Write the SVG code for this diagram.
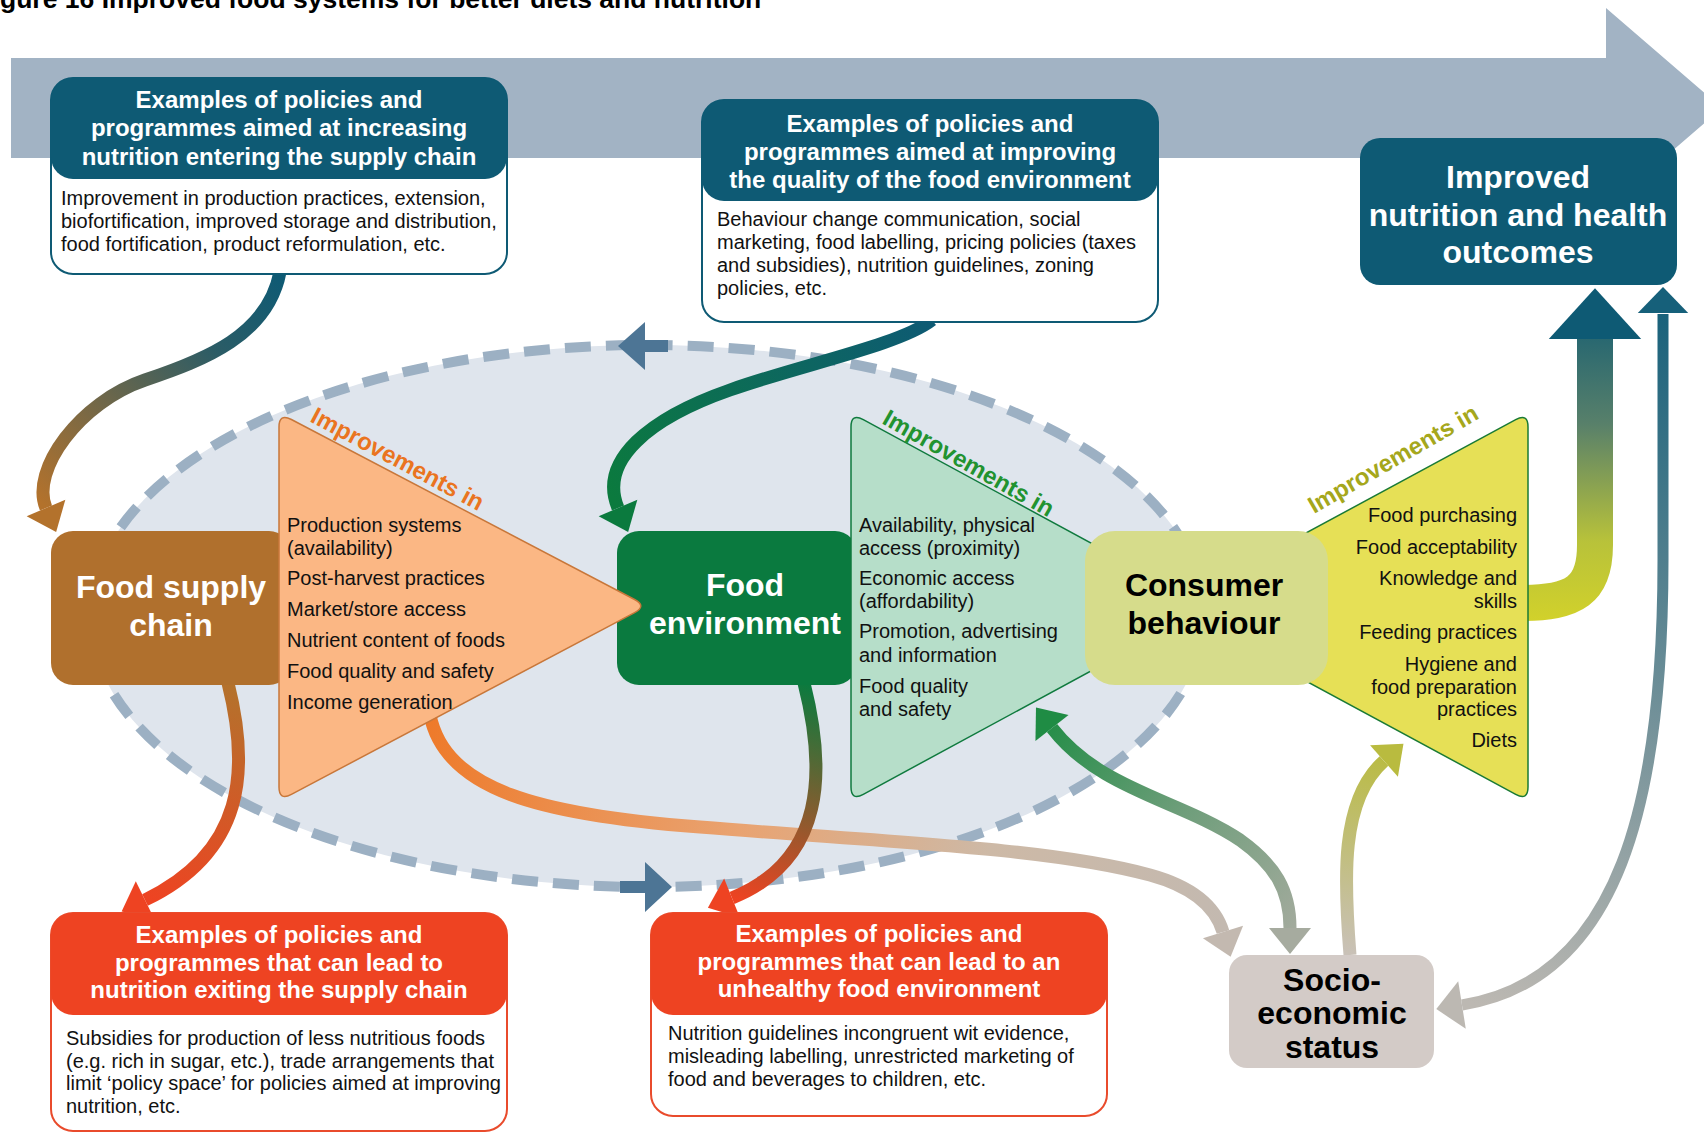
<svg xmlns="http://www.w3.org/2000/svg" xmlns:xlink="http://www.w3.org/1999/xlink" width="1704" height="1134" viewBox="0 0 1704 1134">
<style>
.t{font-family:"Liberation Sans",Arial,sans-serif}
.hdr{font-family:"Liberation Sans",Arial,sans-serif;font-weight:bold;font-size:24px;fill:#fff;text-anchor:middle}
.body{font-family:"Liberation Sans",Arial,sans-serif;font-size:20px;fill:#111}
.node{font-family:"Liberation Sans",Arial,sans-serif;font-weight:bold;font-size:32px;text-anchor:middle}
.imp{font-family:"Liberation Sans",Arial,sans-serif;font-size:24px;font-weight:bold}
.conn path{fill:none}
</style>
<defs>
<path id="ah" d="M26 0 L0 -21 L0 21 Z"/>
<linearGradient id="gA" gradientUnits="userSpaceOnUse" x1="280" y1="274" x2="46" y2="508"><stop offset="0" stop-color="#0e5a74"/><stop offset="0.3" stop-color="#2b5c66"/><stop offset="1" stop-color="#b3722c"/></linearGradient>
<linearGradient id="gB" gradientUnits="userSpaceOnUse" x1="932" y1="320" x2="618" y2="508"><stop offset="0" stop-color="#0e5a74"/><stop offset="1" stop-color="#0b7a3e"/></linearGradient>
<linearGradient id="gC" gradientUnits="userSpaceOnUse" x1="228" y1="683" x2="145" y2="900"><stop offset="0" stop-color="#b3722c"/><stop offset="1" stop-color="#ee4322"/></linearGradient>
<linearGradient id="gD" gradientUnits="userSpaceOnUse" x1="804" y1="683" x2="732" y2="898"><stop offset="0" stop-color="#0b7a3e"/><stop offset="1" stop-color="#ee4322"/></linearGradient>
<linearGradient id="gE" gradientUnits="userSpaceOnUse" x1="430" y1="715" x2="1223" y2="932"><stop offset="0" stop-color="#ee7a2a"/><stop offset="0.4" stop-color="#e9a371"/><stop offset="0.7" stop-color="#cdb9a6"/><stop offset="1" stop-color="#c3b9b0"/></linearGradient>
<linearGradient id="gF" gradientUnits="userSpaceOnUse" x1="1040" y1="715" x2="1290" y2="950"><stop offset="0" stop-color="#1f8c44"/><stop offset="0.5" stop-color="#6f9e7b"/><stop offset="1" stop-color="#a6ab9f"/></linearGradient>
<linearGradient id="gG" gradientUnits="userSpaceOnUse" x1="1350" y1="955" x2="1390" y2="750"><stop offset="0" stop-color="#c9c1b8"/><stop offset="1" stop-color="#b9bb3f"/></linearGradient>
<linearGradient id="gH" gradientUnits="userSpaceOnUse" x1="0" y1="625" x2="0" y2="290"><stop offset="0" stop-color="#d3d22a"/><stop offset="0.25" stop-color="#b8c23a"/><stop offset="0.6" stop-color="#58806a"/><stop offset="1" stop-color="#0e5a74"/></linearGradient>
<linearGradient id="gI" gradientUnits="userSpaceOnUse" x1="1663" y1="300" x2="1480" y2="1005"><stop offset="0" stop-color="#16607a"/><stop offset="1" stop-color="#bcb8b2"/></linearGradient>
</defs>

<rect width="1704" height="1134" fill="#fff"/>
<text class="t" x="0" y="8" font-size="26.5" font-weight="bold" fill="#000">gure 16  Improved food systems for better diets and nutrition</text>

<g id="main-arrow">
<polygon points="11,58 1606,58 1606,8 1722,108 1606,208 1606,158 11,158" fill="#a2b3c4"/>
</g>

<g id="cycle">
<ellipse cx="647" cy="616" rx="557" ry="271" fill="#dfe5ed" stroke="#9cb0c3" stroke-width="10" stroke-dasharray="26 15"/>
<path d="M618 346 L645 322 L645 340 L668 340 L668 352 L645 352 L645 370 Z" fill="#4d7595"/>
<path d="M672 887 L645 862 L645 881 L620 881 L620 893 L645 893 L645 912 Z" fill="#4d7595"/>
</g>

<g id="connectors" class="conn">
<path d="M280 272 C268 335 205 360 145 380 C80 402 30 470 46 508" stroke="url(#gA)" stroke-width="13"/>
<use href="#ah" transform="translate(46,508) rotate(67)" fill="#b3722c"/>
<path d="M932 320 C900 345 800 365 730 390 C650 418 598 460 618 508" stroke="url(#gB)" stroke-width="13"/>
<use href="#ah" transform="translate(618,508) rotate(67)" fill="#0b7a3e"/>
<path d="M228 683 C250 770 245 852 145 900" stroke="url(#gC)" stroke-width="13"/>
<use href="#ah" transform="translate(145,900) rotate(154)" fill="#ee4322"/>
<path d="M430 715 C445 790 540 815 700 827 C900 843 1050 848 1150 875 C1190 886 1215 905 1223 932" stroke="url(#gE)" stroke-width="13"/>
<use href="#ah" transform="translate(1223,932) rotate(73)" fill="#c3b9b0"/>
<path d="M804 683 C826 770 826 860 732 898" stroke="url(#gD)" stroke-width="13"/>
<use href="#ah" transform="translate(732,898) rotate(158)" fill="#ee4322"/>
<path d="M1052 728 C1100 790 1180 800 1240 840 C1275 865 1290 890 1290 928" stroke="url(#gF)" stroke-width="13"/>
<use href="#ah" transform="translate(1052,728) rotate(232)" fill="#1f8c44"/>
<use href="#ah" transform="translate(1290,928) rotate(90)" fill="#a6ab9f"/>
<path d="M1350 955 C1344 880 1340 800 1384 761" stroke="url(#gG)" stroke-width="13"/>
<use href="#ah" transform="translate(1384,761) rotate(-41.5)" fill="#b9bb3f"/>
<path d="M1520 603 C1575 603 1595 590 1595 545 L1595 336" stroke="url(#gH)" stroke-width="36"/>
<use href="#ah" transform="translate(1595,339) rotate(-90) scale(1.95,2.2)" fill="#0e5a74"/>
<path d="M1663 314 L1663 560 C1663 800 1620 980 1462 1005" stroke="url(#gI)" stroke-width="11"/>
<use href="#ah" transform="translate(1663,313) rotate(-90) scale(1,1.2)" fill="#16607a"/>
<use href="#ah" transform="translate(1462,1005) rotate(171) scale(1,1.15)" fill="#bcb8b2"/>
</g>

<g id="policy-supply-in">
<rect x="51" y="78" width="456" height="196" rx="22" fill="#fff" stroke="#0e5a74" stroke-width="2"/>
<rect x="51" y="78" width="456" height="101" rx="22" fill="#0e5a74"/>
<text class="hdr" x="279" y="108">Examples of policies and</text>
<text class="hdr" x="279" y="136">programmes aimed at increasing</text>
<text class="hdr" x="279" y="165">nutrition entering the supply chain</text>
<text class="body" x="61" y="205">Improvement in production practices, extension,</text>
<text class="body" x="61" y="228">biofortification, improved storage and distribution,</text>
<text class="body" x="61" y="251">food fortification, product reformulation, etc.</text>
</g>

<g id="policy-food-env">
<rect x="702" y="100" width="456" height="222" rx="22" fill="#fff" stroke="#0e5a74" stroke-width="2"/>
<rect x="702" y="100" width="456" height="101" rx="22" fill="#0e5a74"/>
<text class="hdr" x="930" y="132">Examples of policies and</text>
<text class="hdr" x="930" y="160">programmes aimed at improving</text>
<text class="hdr" x="930" y="188">the quality of the food environment</text>
<text class="body" x="717" y="226">Behaviour change communication, social</text>
<text class="body" x="717" y="249">marketing, food labelling, pricing policies (taxes</text>
<text class="body" x="717" y="272">and subsidies), nutrition guidelines, zoning</text>
<text class="body" x="717" y="295">policies, etc.</text>
</g>

<g id="outcomes">
<rect x="1360" y="138" width="317" height="147" rx="20" fill="#0e5a74"/>
<text class="node" x="1518" y="188" fill="#fff">Improved</text>
<text class="node" x="1518" y="226" fill="#fff">nutrition and health</text>
<text class="node" x="1518" y="263" fill="#fff">outcomes</text>
</g>

<g id="food-supply-chain">
<rect x="51" y="531" width="240" height="154" rx="22" fill="#b0702d"/>
<text class="node" x="171" y="598" fill="#fff">Food supply</text>
<text class="node" x="171" y="636" fill="#fff">chain</text>
</g>

<g id="food-environment">
<rect x="617" y="531" width="240" height="154" rx="22" fill="#0a7a3f"/>
<text class="node" x="745" y="596" fill="#fff">Food</text>
<text class="node" x="745" y="634" fill="#fff">environment</text>
</g>

<g id="improvements-supply">
<path d="M291.4 419.5 L634.6 599.5 Q647 606 634.6 612.6 L291.4 794.4 Q279 801 279 787 L279 427 Q279 413 291.4 419.5 Z" fill="#fbb784" stroke="#c8773a" stroke-width="1.5"/>
<text class="imp" transform="translate(309,421) rotate(28)" fill="#ea7420">Improvements in</text>
<text class="body" x="287" y="532">Production systems</text>
<text class="body" x="287" y="555">(availability)</text>
<text class="body" x="287" y="585">Post-harvest practices</text>
<text class="body" x="287" y="616">Market/store access</text>
<text class="body" x="287" y="647">Nutrient content of foods</text>
<text class="body" x="287" y="678">Food quality and safety</text>
<text class="body" x="287" y="709">Income generation</text>
</g>

<g id="improvements-env">
<path d="M863.3 419.7 L1209 607 L863.3 794.3 Q851 801 851 787 L851 427 Q851 413 863.3 419.7 Z" fill="#b6dec9" stroke="#0f7a3e" stroke-width="1.5"/>
<text class="imp" transform="translate(881,423) rotate(29.5)" fill="#229330">Improvements in</text>
<text class="body" x="859" y="532">Availability, physical</text>
<text class="body" x="859" y="555">access (proximity)</text>
<text class="body" x="859" y="585">Economic access</text>
<text class="body" x="859" y="608">(affordability)</text>
<text class="body" x="859" y="638">Promotion, advertising</text>
<text class="body" x="859" y="662">and information</text>
<text class="body" x="859" y="693">Food quality</text>
<text class="body" x="859" y="716">and safety</text>
</g>

<g id="improvements-consumer">
<path d="M1169 607 L1515.7 419.7 Q1528 413 1528 427 L1528 787 Q1528 801 1515.7 794.3 Z" fill="#e6e056" stroke="#1a7a35" stroke-width="1.5"/>
<text class="imp" transform="translate(1314,514) rotate(-30)" fill="#a5a71c">Improvements in</text>
<g text-anchor="end">
<text class="body" x="1517" y="522">Food purchasing</text>
<text class="body" x="1517" y="554">Food acceptability</text>
<text class="body" x="1517" y="585">Knowledge and</text>
<text class="body" x="1517" y="608">skills</text>
<text class="body" x="1517" y="639">Feeding practices</text>
<text class="body" x="1517" y="671">Hygiene and</text>
<text class="body" x="1517" y="694">food preparation</text>
<text class="body" x="1517" y="716">practices</text>
<text class="body" x="1517" y="747">Diets</text>
</g>
</g>

<g id="consumer-behaviour">
<rect x="1085" y="531" width="243" height="154" rx="30" fill="#d6dc8b"/>
<text class="node" x="1204" y="596" fill="#000">Consumer</text>
<text class="node" x="1204" y="634" fill="#000">behaviour</text>
</g>

<g id="socio-economic">
<rect x="1229" y="955" width="205" height="113" rx="18" fill="#d3cbc7"/>
<text class="node" x="1332" y="991" font-size="29" fill="#000">Socio-</text>
<text class="node" x="1332" y="1024" font-size="29" fill="#000">economic</text>
<text class="node" x="1332" y="1058" font-size="29" fill="#000">status</text>
</g>

<g id="policy-supply-out">
<rect x="51" y="913" width="456" height="218" rx="22" fill="#fff" stroke="#e94b2c" stroke-width="2"/>
<rect x="51" y="913" width="456" height="102" rx="22" fill="#ee4322"/>
<text class="hdr" x="279" y="943">Examples of policies and</text>
<text class="hdr" x="279" y="971">programmes that can lead to</text>
<text class="hdr" x="279" y="998">nutrition exiting the supply chain</text>
<text class="body" x="66" y="1045">Subsidies for production of less nutritious foods</text>
<text class="body" x="66" y="1068">(e.g. rich in sugar, etc.), trade arrangements that</text>
<text class="body" x="66" y="1090">limit ‘policy space’ for policies aimed at improving</text>
<text class="body" x="66" y="1113">nutrition, etc.</text>
</g>

<g id="policy-unhealthy-env">
<rect x="651" y="913" width="456" height="203" rx="22" fill="#fff" stroke="#e94b2c" stroke-width="2"/>
<rect x="651" y="913" width="456" height="102" rx="22" fill="#ee4322"/>
<text class="hdr" x="879" y="942">Examples of policies and</text>
<text class="hdr" x="879" y="970">programmes that can lead to an</text>
<text class="hdr" x="879" y="997">unhealthy food environment</text>
<text class="body" x="668" y="1040">Nutrition guidelines incongruent wit evidence,</text>
<text class="body" x="668" y="1063">misleading labelling, unrestricted marketing of</text>
<text class="body" x="668" y="1086">food and beverages to children, etc.</text>
</g>
</svg>
